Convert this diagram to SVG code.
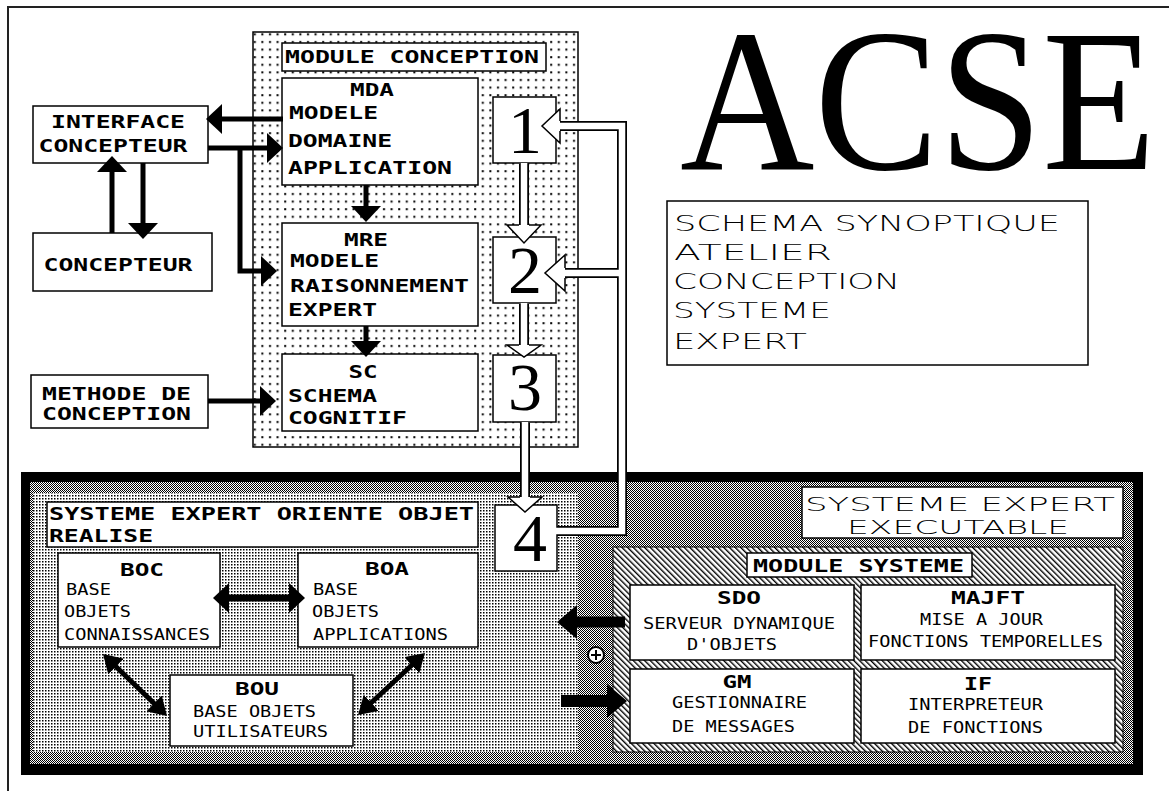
<svg xmlns="http://www.w3.org/2000/svg" width="1169" height="791" viewBox="0 0 1169 791">
<defs>
<style>
.b{font-family:'DejaVu Sans Mono','Liberation Mono',monospace;font-weight:bold;font-size:18px;fill:#000}
.t{font-family:'DejaVu Sans Mono','Liberation Mono',monospace;font-size:16.5px;fill:#000}
.w{font-family:'DejaVu Sans','Liberation Sans',sans-serif;font-weight:200;font-size:20.5px;fill:#000}
.w2{font-size:19px}
.n{font-family:'Liberation Serif',serif;font-size:68px;text-anchor:middle;fill:#000}
.m{text-anchor:middle}
.box{fill:#fff;stroke:#000;stroke-width:1.5}
.sa{fill:none;stroke:#000;stroke-linejoin:miter}
.ho{fill:none;stroke:#000;stroke-width:10;stroke-linejoin:miter}
.hi{fill:none;stroke:#fff;stroke-width:6.5;stroke-linejoin:miter}
.hh{fill:#fff;stroke:#000;stroke-width:1.5;stroke-linejoin:miter}
</style>
<pattern id="dots" width="7.6" height="7.6" patternUnits="userSpaceOnUse"><rect x="3" y="3" width="2" height="2" fill="#000"/></pattern>
<pattern id="fine" width="3" height="3" patternUnits="userSpaceOnUse"><rect x="0" y="0" width="1.5" height="1.5" fill="#000"/></pattern>
<pattern id="checker" width="2" height="2" patternUnits="userSpaceOnUse"><rect x="0" y="0" width="1" height="1" fill="#000"/><rect x="1" y="1" width="1" height="1" fill="#000"/></pattern>
<pattern id="hatch" width="4" height="4" patternUnits="userSpaceOnUse" patternTransform="rotate(-45)"><rect x="0" y="0" width="1.4" height="4" fill="#000"/></pattern>
<marker id="hs" viewBox="0 0 16 30" refX="6" refY="15" markerWidth="16" markerHeight="30" markerUnits="userSpaceOnUse" orient="auto-start-reverse"><path d="M0,0 L16,15 L0,30 Z" fill="#000"/></marker>
<marker id="hd" viewBox="0 0 18 22" refX="7" refY="11" markerWidth="18" markerHeight="22" markerUnits="userSpaceOnUse" orient="auto-start-reverse"><path d="M0,0 L18,11 L0,22 Z" fill="#000"/></marker>
<marker id="hb" viewBox="0 0 20 34" refX="8" refY="17" markerWidth="20" markerHeight="34" markerUnits="userSpaceOnUse" orient="auto-start-reverse"><path d="M0,0 L20,17 L0,34 Z" fill="#000"/></marker>
</defs>
<rect width="1169" height="791" fill="#fff"/>
<path d="M8 791 L8 7 L1169 7" fill="none" stroke="#222" stroke-width="2"/>

<g id="title">
<text x="680" y="169" font-family="'Liberation Serif',serif" font-size="204" textLength="476" lengthAdjust="spacingAndGlyphs">ACSE</text>
</g>

<g id="schema-synoptique">
<rect class="box" x="667" y="201" width="421" height="164"/>
<text class="w" x="674" y="231" textLength="386" lengthAdjust="spacingAndGlyphs">SCHEMA SYNOPTIQUE</text>
<text class="w" x="674" y="260" textLength="158" lengthAdjust="spacingAndGlyphs">ATELIER</text>
<text class="w" x="673" y="289" textLength="227" lengthAdjust="spacingAndGlyphs">CONCEPTION</text>
<text class="w" x="673" y="318" textLength="158" lengthAdjust="spacingAndGlyphs">SYSTEME</text>
<text class="w" x="673" y="349" textLength="134" lengthAdjust="spacingAndGlyphs">EXPERT</text>
</g>

<g id="interface-concepteur">
<rect class="box" x="33" y="106" width="175" height="57"/>
<text class="b m" x="118" y="128" textLength="134" lengthAdjust="spacingAndGlyphs">INTERFACE</text>
<text class="b m" x="113" y="152" textLength="149" lengthAdjust="spacingAndGlyphs">CONCEPTEUR</text>
</g>

<g id="concepteur">
<rect class="box" x="33" y="233" width="179" height="58"/>
<text class="b m" x="118" y="271" textLength="149" lengthAdjust="spacingAndGlyphs">CONCEPTEUR</text>
</g>

<g id="methode-conception">
<rect class="box" x="31" y="375" width="177" height="53"/>
<text class="b" x="42" y="400" textLength="149" lengthAdjust="spacingAndGlyphs">METHODE DE</text>
<text class="b" x="42" y="420" textLength="149" lengthAdjust="spacingAndGlyphs">CONCEPTION</text>
</g>

<g id="module-conception">
<rect x="253" y="32" width="325" height="415" fill="#fff"/>
<rect x="253" y="32" width="325" height="415" fill="url(#dots)" stroke="#000" stroke-width="1.5"/>
<rect class="box" x="282" y="43" width="264" height="28"/>
<text class="b" x="285" y="63" textLength="254" lengthAdjust="spacingAndGlyphs">MODULE CONCEPTION</text>
</g>

<g id="mda">
<rect class="box" x="282" y="78" width="196" height="107"/>
<text class="b m" x="372" y="96" textLength="44" lengthAdjust="spacingAndGlyphs">MDA</text>
<text class="b" x="289" y="119" textLength="89" lengthAdjust="spacingAndGlyphs">MODELE</text>
<text class="b" x="288" y="147" textLength="104" lengthAdjust="spacingAndGlyphs">DOMAINE</text>
<text class="b" x="288" y="174" textLength="164" lengthAdjust="spacingAndGlyphs">APPLICATION</text>
</g>

<g id="mre">
<rect class="box" x="282" y="223" width="196" height="103"/>
<text class="b m" x="366" y="246" textLength="44" lengthAdjust="spacingAndGlyphs">MRE</text>
<text class="b" x="290" y="267" textLength="89" lengthAdjust="spacingAndGlyphs">MODELE</text>
<text class="b" x="290" y="292" textLength="179" lengthAdjust="spacingAndGlyphs">RAISONNEMENT</text>
<text class="b" x="288" y="316" textLength="89" lengthAdjust="spacingAndGlyphs">EXPERT</text>
</g>

<g id="sc">
<rect class="box" x="282" y="354" width="196" height="77"/>
<text class="b m" x="363" y="378" textLength="29" lengthAdjust="spacingAndGlyphs">SC</text>
<text class="b" x="288" y="402" textLength="89" lengthAdjust="spacingAndGlyphs">SCHEMA</text>
<text class="b" x="288" y="424" textLength="119" lengthAdjust="spacingAndGlyphs">COGNITIF</text>
</g>

<g id="step1"><rect class="box" x="493" y="97" width="63" height="66"/><text class="n" x="525" y="153">1</text></g>
<g id="step2"><rect class="box" x="493" y="237" width="63" height="66"/><text class="n" x="525" y="293">2</text></g>
<g id="step3"><rect class="box" x="493" y="355" width="63" height="67"/><text class="n" x="525" y="410">3</text></g>

<g id="systeme-expert-executable">
<rect x="21" y="472" width="1122" height="303" fill="#000"/>
<rect x="30" y="482" width="1103" height="282" fill="#fff"/>
<rect x="30" y="482" width="1103" height="282" fill="url(#checker)"/>
<rect class="box" x="802" y="487" width="321" height="51"/>
<text class="w w2" x="805" y="511" textLength="310" lengthAdjust="spacingAndGlyphs">SYSTEME EXPERT</text>
<text class="w w2" x="847" y="534" textLength="222" lengthAdjust="spacingAndGlyphs">EXECUTABLE</text>
</g>

<g id="systeme-expert-oriente-objet">
<rect x="33" y="493" width="545" height="259" fill="#fff"/>
<rect x="33" y="493" width="545" height="259" fill="url(#fine)"/>
<rect class="box" x="47" y="502" width="431" height="45"/>
<text class="b" x="49" y="520" textLength="425" lengthAdjust="spacingAndGlyphs">SYSTEME EXPERT ORIENTE OBJET</text>
<text class="b" x="49" y="542" textLength="104" lengthAdjust="spacingAndGlyphs">REALISE</text>
</g>

<g id="step4"><rect class="box" x="495" y="505" width="62" height="66"/><text class="n" x="530" y="561">4</text></g>

<g id="boc">
<rect class="box" x="58" y="553" width="162" height="94"/>
<text class="b m" x="142" y="576" textLength="44" lengthAdjust="spacingAndGlyphs">BOC</text>
<text class="t" x="66" y="595" textLength="45" lengthAdjust="spacingAndGlyphs">BASE</text>
<text class="t" x="64" y="617" textLength="67" lengthAdjust="spacingAndGlyphs">OBJETS</text>
<text class="t" x="64" y="640" textLength="146" lengthAdjust="spacingAndGlyphs">CONNAISSANCES</text>
</g>

<g id="boa">
<rect class="box" x="298" y="553" width="180" height="94"/>
<text class="b m" x="387" y="575" textLength="44" lengthAdjust="spacingAndGlyphs">BOA</text>
<text class="t" x="313" y="595" textLength="45" lengthAdjust="spacingAndGlyphs">BASE</text>
<text class="t" x="312" y="617" textLength="67" lengthAdjust="spacingAndGlyphs">OBJETS</text>
<text class="t" x="313" y="640" textLength="135" lengthAdjust="spacingAndGlyphs">APPLICATIONS</text>
</g>

<g id="bou">
<rect class="box" x="170" y="675" width="183" height="71"/>
<text class="b m" x="257" y="695" textLength="44" lengthAdjust="spacingAndGlyphs">BOU</text>
<text class="t" x="193" y="717" textLength="123" lengthAdjust="spacingAndGlyphs">BASE OBJETS</text>
<text class="t" x="193" y="737" textLength="135" lengthAdjust="spacingAndGlyphs">UTILISATEURS</text>
</g>

<g id="module-systeme">
<rect x="613" y="547" width="510" height="205" fill="#fff"/>
<rect x="613" y="547" width="510" height="205" fill="url(#hatch)" stroke="#000" stroke-width="1"/>
<rect class="box" x="747" y="553" width="225" height="24"/>
<text class="b" x="753" y="572" textLength="211" lengthAdjust="spacingAndGlyphs">MODULE SYSTEME</text>
</g>

<g id="sdo">
<rect class="box" x="630" y="585" width="224" height="75"/>
<text class="b m" x="739" y="604" textLength="44" lengthAdjust="spacingAndGlyphs">SDO</text>
<text class="t" x="643" y="629" textLength="192" lengthAdjust="spacingAndGlyphs">SERVEUR DYNAMIQUE</text>
<text class="t" x="687" y="650" textLength="90" lengthAdjust="spacingAndGlyphs">D'OBJETS</text>
</g>

<g id="majft">
<rect class="box" x="861" y="585" width="254" height="75"/>
<text class="b m" x="988" y="604" textLength="74" lengthAdjust="spacingAndGlyphs">MAJFT</text>
<text class="t" x="920" y="625" textLength="123" lengthAdjust="spacingAndGlyphs">MISE A JOUR</text>
<text class="t" x="868" y="647" textLength="235" lengthAdjust="spacingAndGlyphs">FONCTIONS TEMPORELLES</text>
</g>

<g id="gm">
<rect class="box" x="630" y="669" width="224" height="74"/>
<text class="b m" x="737" y="688" textLength="29" lengthAdjust="spacingAndGlyphs">GM</text>
<text class="t" x="672" y="708" textLength="135" lengthAdjust="spacingAndGlyphs">GESTIONNAIRE</text>
<text class="t" x="672" y="732" textLength="123" lengthAdjust="spacingAndGlyphs">DE MESSAGES</text>
</g>

<g id="if">
<rect class="box" x="861" y="669" width="254" height="74"/>
<text class="b m" x="978" y="690" textLength="28" lengthAdjust="spacingAndGlyphs">IF</text>
<text class="t" x="908" y="710" textLength="135" lengthAdjust="spacingAndGlyphs">INTERPRETEUR</text>
<text class="t" x="908" y="733" textLength="135" lengthAdjust="spacingAndGlyphs">DE FONCTIONS</text>
</g>

<g id="connectors">
<path class="sa" stroke-width="5" d="M283 119 L216 119" marker-end="url(#hs)"/>
<path class="sa" stroke-width="5" d="M208 148 L273 148" marker-end="url(#hs)"/>
<path class="sa" stroke-width="5" d="M240 148 L240 271 L267 271" marker-end="url(#hs)"/>
<path class="sa" stroke-width="5" d="M112 233 L112 166" marker-end="url(#hs)"/>
<path class="sa" stroke-width="5" d="M143 163 L143 229" marker-end="url(#hs)"/>
<path class="sa" stroke-width="5" d="M366 185 L366 212" marker-end="url(#hs)"/>
<path class="sa" stroke-width="5" d="M366 326 L366 347" marker-end="url(#hs)"/>
<path class="sa" stroke-width="5" d="M208 401 L266 401" marker-end="url(#hs)"/>
<path class="sa" stroke-width="7" d="M223 598 L295 598" marker-start="url(#hs)" marker-end="url(#hs)"/>
<path class="sa" stroke-width="5" d="M110.9 661.7 L159.1 708.3" marker-start="url(#hd)" marker-end="url(#hd)"/>
<path class="sa" stroke-width="5" d="M416.9 660.5 L366.1 707.5" marker-start="url(#hd)" marker-end="url(#hd)"/>
<path class="sa" stroke-width="11" d="M625 622 L569 622" marker-end="url(#hb)"/>
<path class="sa" stroke-width="12" d="M561 701 L615 701" marker-end="url(#hb)"/>
<path class="ho" d="M524 164 L524 226"/>
<path class="ho" d="M524 304 L524 346"/>
<path class="ho" d="M525 423 L525 498"/>
<path class="ho" d="M557 531 L622 531 L622 126 L559 126"/>
<path class="ho" d="M622 273 L564 273"/>
<path class="hi" d="M524 163 L524 227"/>
<path class="hi" d="M524 303 L524 347"/>
<path class="hi" d="M525 422 L525 499"/>
<path class="hi" d="M556 531 L622 531 L622 126 L558 126"/>
<path class="hi" d="M622 273 L563 273"/>
<path class="hh" d="M519 225 L507 225 L524 243 L541 225 L529 225"/>
<path class="hh" d="M519 345 L507 345 L524 357 L541 345 L529 345"/>
<path class="hh" d="M520 497 L508 497 L525 512 L542 497 L530 497"/>
<path class="hh" d="M560 121 L560 109 L542 126 L560 143 L560 131"/>
<path class="hh" d="M565 268 L565 255 L545 273 L565 291 L565 278"/>
</g>

<g id="junction">
<circle cx="596" cy="655" r="8" fill="#fff" stroke="#000" stroke-width="2"/>
<path d="M591 655 L601 655 M596 650 L596 660" stroke="#000" stroke-width="2"/>
</g>
</svg>
